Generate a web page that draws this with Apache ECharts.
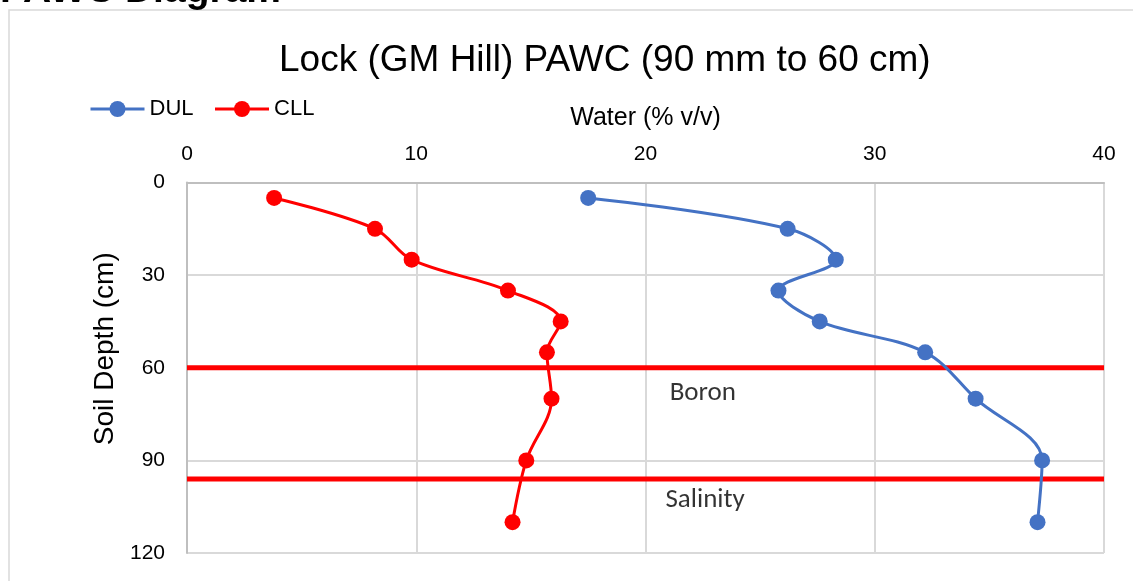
<!DOCTYPE html>
<html>
<head>
<meta charset="utf-8">
<title>PAWC Diagram</title>
<script src="https://cdn.jsdelivr.net/npm/echarts@6/dist/echarts.min.js"></script>
<style>
  html, body { margin: 0; padding: 0; background: #fff; }
  #chart { width: 1133px; height: 581px; }
</style>
</head>
<body>
<div id="chart"></div>
<script>
// soil depth (cm) of each sample layer
var depthDUL = [5, 15, 25, 35, 45, 55, 70, 90, 110];
var depthCLL = [5, 15, 25, 35, 45, 55, 70, 90, 110];
// water (% v/v)
var waterDUL = [17.5, 26.2, 28.3, 25.8, 27.6, 32.2, 34.4, 37.3, 37.1];
var waterCLL = [3.8, 8.2, 9.8, 14.0, 16.3, 15.7, 15.9, 14.8, 14.2];
// limit lines: depth, and x span
var limitNames = ['Boron', 'Salinity'];
var limitDepth = [60, 96];
var limitSpan = [0, 40];
// where the limit labels sit (water, depth)
var limitLabelPos = [[22.5, 68.2], [22.6, 102.8]];
var xTicks = [0, 40, 10];   // min, max, interval
var yTicks = [0, 120, 30];

var FONT = '"Liberation Sans", Arial, sans-serif';

function pairs(xs, ys) {
  return xs.map(function (x, i) { return [x, ys[i]]; });
}

var myChart = echarts.init(document.getElementById('chart'));

var series = [
  {
    name: 'DUL',
    type: 'line',
    data: pairs(waterDUL, depthDUL),
    smooth: 0.35,
    symbol: 'circle',
    symbolSize: 16,
    color: '#4472C4',
    lineStyle: { width: 3, color: '#4472C4' },
    z: 5
  },
  {
    name: 'CLL',
    type: 'line',
    data: pairs(waterCLL, depthCLL),
    smooth: 0.35,
    symbol: 'circle',
    symbolSize: 16,
    color: '#FF0000',
    lineStyle: { width: 3, color: '#FF0000' },
    z: 5
  }
];

limitNames.forEach(function (n, i) {
  series.push({
    name: n,
    type: 'line',
    data: [[limitSpan[0], limitDepth[i]], [limitSpan[1], limitDepth[i]]],
    symbol: 'none',
    lineStyle: { width: 5, color: '#FF0000' },
    z: 4,
    silent: true
  });
});

series.push({
  name: 'labels',
  type: 'scatter',
  symbolSize: 0,
  data: limitLabelPos.map(function (p, i) { return { value: p, name: limitNames[i] }; }),
  label: {
    show: true,
    position: 'inside',
    formatter: '{b}',
    fontFamily: 'Carlito, Lato, sans-serif',
    fontSize: 27,
    color: '#000'
  },
  silent: true
});

myChart.setOption({
  animation: false,
  graphic: [
    {
      type: 'rect',
      shape: { x: 9, y: 10, width: 1200, height: 700 },
      style: { fill: 'none', stroke: '#d9d9d9', lineWidth: 1.5 },
      silent: true
    },
    {
      type: 'text',
      style: {
        x: 0, y: 11,
        text: 'PAWC Diagram',
        font: 'bold 39px "Liberation Sans", Arial',
        verticalAlign: 'bottom',
        textVerticalAlign: 'bottom',
        fill: '#000'
      }
    }
  ],
  title: {
    text: 'Lock (GM Hill) PAWC (90 mm to 60 cm)',
    left: 274,
    top: 37,
    textStyle: { fontFamily: FONT, fontSize: 37, fontWeight: 'normal', color: '#000' }
  },
  legend: {
    left: 84,
    top: 93,
    itemWidth: 54,
    itemHeight: 20,
    itemGap: 20,
    data: ['DUL', 'CLL'],
    lineStyle: { width: 3 },
    textStyle: { fontFamily: FONT, fontSize: 22, color: '#000' }
  },
  grid: { left: 187, top: 182.5, right: 29, bottom: 28 },
  xAxis: {
    type: 'value',
    position: 'top',
    min: xTicks[0], max: xTicks[1], interval: xTicks[2],
    name: 'Water (% v/v)',
    nameLocation: 'middle',
    nameGap: 52,
    nameTextStyle: { fontFamily: FONT, fontSize: 25, color: '#000' },
    axisLine: { show: true, lineStyle: { color: '#bfbfbf', width: 2 } },
    axisTick: { show: false },
    axisLabel: { fontFamily: FONT, fontSize: 21, color: '#000', margin: 18 },
    splitLine: { show: true, lineStyle: { color: '#d9d9d9', width: 2 } }
  },
  yAxis: {
    type: 'value',
    inverse: true,
    min: yTicks[0], max: yTicks[1], interval: yTicks[2],
    name: 'Soil Depth (cm)',
    nameLocation: 'middle',
    nameGap: 67,
    nameTextStyle: { fontFamily: FONT, fontSize: 28, color: '#000', padding: [0, 0, 0, 38] },
    axisLine: { show: true, lineStyle: { color: '#bfbfbf', width: 2 } },
    axisTick: { show: false },
    axisLabel: { fontFamily: FONT, fontSize: 21, color: '#000', margin: 22 },
    splitLine: { show: true, lineStyle: { color: '#d9d9d9', width: 2 } }
  },
  series: series
});
</script>
</body>
</html>
